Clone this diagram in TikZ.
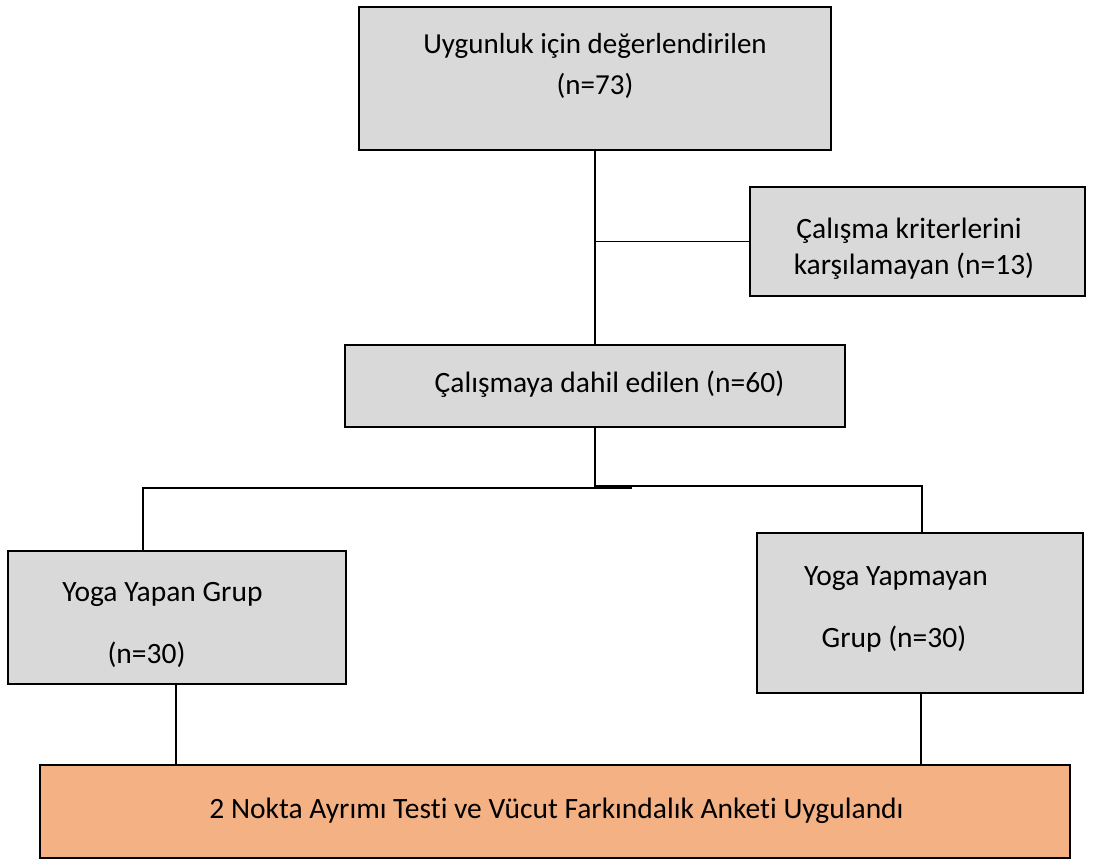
\documentclass[tikz,border=0pt]{standalone}
\usepackage{fontspec}
\setmainfont[Ligatures=NoCommon]{Carlito}
\definecolor{boxgray}{HTML}{D9D9D9}
\definecolor{boxorange}{HTML}{F4B183}
\begin{document}
\begin{tikzpicture}[x=1pt,y=-1pt,
  box/.style={draw=black,line width=1.6pt,fill=boxgray,inner sep=0pt,outer sep=0pt},
  obox/.style={draw=black,line width=1.6pt,fill=boxorange,inner sep=0pt,outer sep=0pt},
  txt/.style={inner sep=0pt,font=\fontsize{29.5}{34}\selectfont},
  conn/.style={draw=black,line width=1.3pt}]
\useasboundingbox (0,0) rectangle (1097,862);
% boxes
\node[box,minimum width=472pt,minimum height=143pt] (b1) at (595,78.5) {};
\node[box,minimum width=335pt,minimum height=109pt] (b2) at (917.5,241.5) {};
\node[box,minimum width=500pt,minimum height=82pt] (b3) at (595,386) {};
\node[box,minimum width=338pt,minimum height=133pt] (b4) at (177,617.5) {};
\node[box,minimum width=326pt,minimum height=160pt] (b5) at (920,613) {};
\node[obox,minimum width=1030pt,minimum height=93pt] (b6) at (555,811.5) {};
% texts
\node[txt,font=\fontsize{29}{34}\selectfont] (t1a) at (595,46) {Uygunluk için değerlendirilen};
\node[txt,font=\fontsize{29}{34}\selectfont] (t1b) at (595,86) {(n=73)};
\node[txt] (t2a) at (909,231) {Çalışma kriterlerini};
\node[txt] (t2b) at (914,266) {karşılamayan (n=13)};
\node[txt] (t3) at (609.5,384) {Çalışmaya dahil edilen (n=60)};
\node[txt] (t4a) at (162.5,594) {Yoga Yapan Grup};
\node[txt] (t4b) at (146.5,655) {(n=30)};
\node[txt] (t5a) at (896,579) {Yoga Yapmayan};
\node[txt] (t5b) at (894,639) {Grup (n=30)};
\node[txt] (t6) at (556.5,811) {2 Nokta Ayrımı Testi ve Vücut Farkındalık Anketi Uygulandı};
% connectors
\coordinate (jm) at (595,487);
\coordinate (jl) at (143,488);
\coordinate (jr) at (922,486);
\coordinate (jlend) at (632,488);
\draw[conn] (b1.south) -- (b3.north);
\draw[conn] (b2.west) -- (b2.west -| b1.south);
\draw[conn] (b3.south) -- (jm);
\draw[conn] (jlend) -- (jl) -- (b4.north -| jl);
\draw[conn] (jm) |- (jr) -- (b5.north -| jr);
\draw[conn] (b4.south -| 176,0) -- (b6.north -| 176,0);
\draw[conn] (b5.south -| 921,0) -- (b6.north -| 921,0);
\end{tikzpicture}
\end{document}
